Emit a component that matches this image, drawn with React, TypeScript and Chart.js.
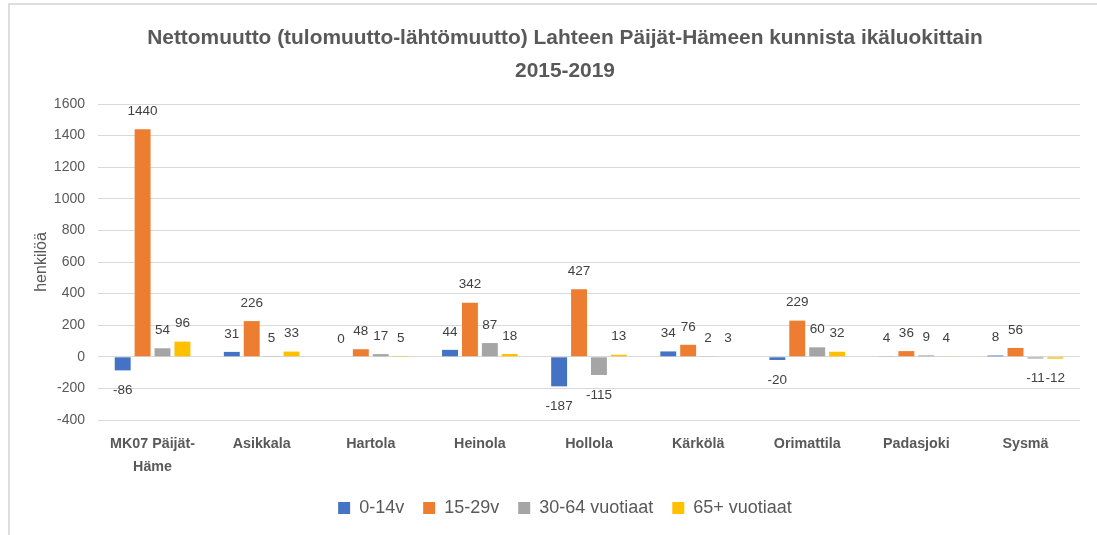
import React, { useEffect, useRef } from "react";
import { Chart, registerables } from "chart.js";

Chart.register(...registerables);

const titleLines = [
  "Nettomuutto (tulomuutto-lähtömuutto) Lahteen Päijät-Hämeen kunnista ikäluokittain",
  "2015-2019",
];
const categories: (string | string[])[] = [
  ["MK07 Päijät-", "Häme"],
  "Asikkala",
  "Hartola",
  "Heinola",
  "Hollola",
  "Kärkölä",
  "Orimattila",
  "Padasjoki",
  "Sysmä",
];
const seriesNames = ["0-14v", "15-29v", "30-64 vuotiaat", "65+ vuotiaat"];
const age0_14 = [-86, 31, 0, 44, -187, 34, -20, 4, 8];
const age15_29 = [1440, 226, 48, 342, 427, 76, 229, 36, 56];
const age30_64 = [54, 5, 17, 87, -115, 2, 60, 9, -11];
const age65 = [96, 33, 5, 18, 13, 3, 32, 4, -12];
const seriesColors = ["#4472C4", "#ED7D31", "#A5A5A5", "#FFC000"];
const yMin = -400;
const yMax = 1600;
const yStep = 200;
const yTitle = "henkilöä";

const FONT = '"Liberation Sans", Arial, sans-serif';
const CANVAS_W = 1130;
const CANVAS_H = 535;
const PAD_L = 50;

const valueLabels = {
  id: "valueLabels",
  afterDatasetsDraw(chart: any) {
    const ctx = chart.ctx;
    ctx.save();
    ctx.font = `13.5px ${FONT}`;
    ctx.fillStyle = "#404040";
    ctx.textAlign = "center";
    ctx.textBaseline = "middle";
    chart.data.datasets.forEach((ds: any, i: number) => {
      const meta = chart.getDatasetMeta(i);
      meta.data.forEach((bar: any, j: number) => {
        const v = ds.data[j];
        const y = v >= 0 ? bar.y - 18 : bar.y + 20;
        ctx.fillText(String(v), bar.x, y);
      });
    });
    ctx.restore();
  },
};

export default function App() {
  const ref = useRef<HTMLCanvasElement | null>(null);
  useEffect(() => {
    if (!ref.current) return;
    const data = [age0_14, age15_29, age30_64, age65];
    const chart = new Chart(ref.current, {
      type: "bar",
      data: {
        labels: categories,
        datasets: data.map((d, i) => ({
          label: seriesNames[i],
          data: d,
          backgroundColor: seriesColors[i],
          barPercentage: 0.8,
          categoryPercentage: 0.73,
        })),
      },
      options: {
        responsive: false,
        animation: false,
        layout: { padding: { left: PAD_L, right: CANVAS_W - 1080, top: 0, bottom: 8 } },
        plugins: {
          title: {
            display: true,
            text: titleLines,
            color: "#595959",
            font: { family: FONT, size: 20.9, weight: "bold", lineHeight: 33 / 20.9 },
            padding: { top: 22, bottom: 16 },
          },
          legend: {
            position: "bottom",
            labels: {
              boxWidth: 12,
              boxHeight: 12,
              color: "#595959",
              font: { family: FONT, size: 18 },
              padding: 19,
            },
          },
          tooltip: { enabled: false },
        },
        scales: {
          x: {
            afterFit: (scale: any) => {
              scale.height = 60;
            },
            grid: { display: false, drawTicks: false },
            border: { display: false },
            ticks: {
              color: "#595959",
              font: { family: FONT, size: 14.3, weight: "bold", lineHeight: 23 / 14.3 },
              padding: 13,
              maxRotation: 0,
              autoSkip: false,
            },
          },
          y: {
            min: yMin,
            max: yMax,
            afterFit: (scale: any) => {
              scale.width = 98 - PAD_L;
            },
            grid: { color: "#d9d9d9", drawTicks: false },
            border: { display: false },
            ticks: {
              stepSize: yStep,
              color: "#595959",
              font: { family: FONT, size: 14 },
              padding: 13,
              callback: (v: any) => String(v),
            },
            title: {
              display: true,
              text: yTitle,
              color: "#595959",
              font: { family: FONT, size: 16 },
              padding: { top: 42 - 9.6 - PAD_L, bottom: 0 },
            },
          },
        },
      },
      plugins: [valueLabels],
    });
    return () => chart.destroy();
  }, []);
  return (
    <div
      style={{
        position: "fixed",
        left: 0,
        top: 0,
        width: 1097,
        height: 535,
        background: "#fff",
        overflow: "hidden",
      }}
    >
      <div
        style={{
          position: "absolute",
          left: 8,
          top: 3,
          width: 1200,
          height: 600,
          borderTop: "2px solid #dedede",
          borderLeft: "2px solid #dedede",
        }}
      />
      <canvas
        ref={ref}
        width={CANVAS_W}
        height={CANVAS_H}
        style={{ position: "absolute", left: 0, top: 0, width: CANVAS_W, height: CANVAS_H }}
      />
    </div>
  );
}
